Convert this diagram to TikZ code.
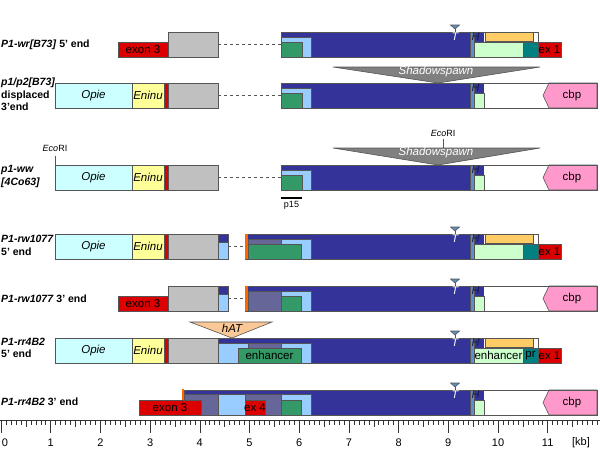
\documentclass[tikz,border=0pt]{standalone}
\usepackage{fontspec}
\setmainfont{Liberation Sans}
\definecolor{navy}{HTML}{333399}
\definecolor{lblue}{HTML}{99CCFF}
\definecolor{dgreen}{HTML}{339966}
\definecolor{slate}{HTML}{666699}
\definecolor{steel}{HTML}{5B8FC7}
\definecolor{orng}{HTML}{FFCC66}
\definecolor{lgreen}{HTML}{CCFFCC}
\definecolor{tealc}{HTML}{008080}
\definecolor{rd}{HTML}{DD0000}
\definecolor{opie}{HTML}{CCFFFF}
\definecolor{eninu}{HTML}{FFFF99}
\definecolor{gry}{HTML}{C0C0C0}
\definecolor{pnk}{HTML}{FF99CC}
\definecolor{shad}{HTML}{808080}
\definecolor{hatc}{HTML}{FAC896}
\definecolor{orstrip}{HTML}{FF6600}
\definecolor{lc}{HTML}{555555}
\definecolor{hcol}{HTML}{1A1A50}
\tikzset{
  bl/.style={draw=lc, line width=0.6pt},
  boxtxt/.style={font=\fontsize{11.5}{11.5}\selectfont, inner sep=0pt},
  itxt/.style={font=\fontsize{11.5}{11.5}\selectfont\itshape, inner sep=0pt},
  lab/.style={font=\fontsize{10.5}{12.5}\selectfont\bfseries, anchor=west, inner sep=0pt, align=left},
  dsh/.style={draw=lc, dashed, line width=0.6pt},
  small/.style={font=\fontsize{9}{9}\selectfont, inner sep=0pt},
  markfont/.style={font=\fontsize{11}{11}\selectfont\itshape, inner sep=0pt},
  rulerlab/.style={font=\fontsize{11}{11}\selectfont, inner sep=0pt},
}
\newcommand\exonend{%
  \draw[bl,fill=steel] (470,0) rectangle (474,25);
  \draw[bl,fill=orng] (485,0) rectangle (533,9.5);
  \draw[bl,fill=lgreen] (474,10) rectangle (523,25);
  \draw[bl,fill=tealc] (523,10) rectangle (538,25);
  \draw[bl,fill=rd] (538,10) rectangle (561,25);
}
\newcommand\cbpend{%
  \draw[bl,fill=steel] (470,0) rectangle (474,25);
  \draw[bl,fill=lgreen] (474,10) rectangle (484,25);
  \draw[bl,fill=pnk] (549,0) -- (597,0) -- (597,25) -- (549,25) -- (543,12.5) -- cycle;
  \node[boxtxt] (cbp) at (572,13) {cbp};
}
\newcommand\Tmark{%
  \draw[bl,fill=steel] (450.5,-7) -- (459.5,-7) -- (455,-3) -- cycle;
  \draw[lc, line width=0.6pt] (455,-3) -- (455,0);
  \node[markfont, text=white] (tm) at (455,4.8) {T};
}
\newcommand\Hmark{%
  \node[markfont, text=hcol] (hm) at (475.5,4.8) {H};
}
\newcommand\opieleft{%
  \draw[bl,fill=opie] (55,0) rectangle (132,25);
  \node[itxt] (opie) at (93.5,12.5) {Opie};
  \draw[bl,fill=eninu] (132,0) rectangle (164,25);
  \node[itxt] (eninu) at (148,12.5) {Eninu};
  \draw[bl,fill=rd] (164,0) rectangle (168,25);
  \draw[bl,fill=gry] (168,0) rectangle (218,25);
}
\begin{document}
\begin{tikzpicture}[x=1pt,y=-1pt]
\useasboundingbox (0,0) rectangle (600,450);
\fill[white] (0,0) rectangle (600,450);

% ---------- Row 1 ----------
\begin{scope}[shift={(0,32)}]
  \node[lab] (l1) at (1,12.5) {\textit{P1-wr[B73]} 5' end};
  \draw[bl,fill=white] (281,0) rectangle (538,25);
  \fill[navy] (281,0) rectangle (484,25);
  \draw[bl,fill=lblue] (281,5) rectangle (311,25);
  \draw[bl,fill=dgreen] (281,10) rectangle (302,25);
  \exonend
  \node[boxtxt] (ex1a) at (549.5,17.8) {ex 1};
  \draw[bl] (281,0) rectangle (538,25);
  \draw[bl,fill=rd] (118,10) rectangle (168,25);
  \node[boxtxt] (ex3a) at (143,17.8) {exon 3};
  \draw[bl,fill=gry] (168,0) rectangle (218,25);
  \coordinate (d1a) at (218,12.5); \coordinate (d1b) at (281,12.5);
  \draw[dsh] (d1a) -- (d1b);
  \Tmark \Hmark
\end{scope}

% Shadowspawn 1
\draw[bl,fill=shad] (333,67) -- (540,67) -- (438,83) -- cycle;
\node[font=\fontsize{11.5}{11.5}\selectfont\itshape, text=white, inner sep=0pt] (ss1) at (436,72) {Shadowspawn};

% ---------- Row 2 ----------
\begin{scope}[shift={(0,83)}]
  \node[lab, anchor=north west] (l2) at (1,-5) {\textit{p1/p2[B73]}\\displaced\\3'end};
  \draw[bl,fill=white] (281,0) rectangle (597,25);
  \fill[navy] (281,0) rectangle (484,25);
  \draw[bl,fill=lblue] (281,5.5) rectangle (311,25);
  \draw[bl,fill=dgreen] (281,10.5) rectangle (302,25);
  \cbpend
  \draw[bl] (281,0) rectangle (597,25);
  \opieleft
  \coordinate (d2a) at (218,12.5); \coordinate (d2b) at (281,12.5);
  \draw[dsh] (d2a) -- (d2b);
  \Hmark
\end{scope}

% EcoRI + Shadowspawn 2
\node[small] (eco1) at (443,133) {\textit{Eco}RI};
\coordinate (e1a) at (443,139); \coordinate (e1b) at (443,148);
\draw[lc, line width=0.6pt] (e1a) -- (e1b);
\draw[bl,fill=shad] (333,148) -- (540,148) -- (438,165) -- cycle;
\node[font=\fontsize{11.5}{11.5}\selectfont\itshape, text=white, inner sep=0pt] (ss2) at (436,153) {Shadowspawn};
\node[small] (eco2) at (55,148) {\textit{Eco}RI};
\coordinate (e2a) at (55,156); \coordinate (e2b) at (55,165);
\draw[lc, line width=0.6pt] (e2a) -- (e2b);

% ---------- Row 3 ----------
\begin{scope}[shift={(0,165)}]
  \node[lab, anchor=north west] (l3) at (1,0.5) {\textit{p1-ww}\\\textit{[4Co63]}};
  \draw[bl,fill=white] (281,0) rectangle (597,25);
  \fill[navy] (281,0) rectangle (484,25);
  \draw[bl,fill=lblue] (281,5.5) rectangle (311,25);
  \draw[bl,fill=dgreen] (281,10.5) rectangle (302,25);
  \cbpend
  \draw[bl] (281,0) rectangle (597,25);
  \opieleft
  \coordinate (d3a) at (218,12.5); \coordinate (d3b) at (281,12.5);
  \draw[dsh] (d3a) -- (d3b);
  \Hmark
  \coordinate (p1) at (281,33); \coordinate (p2) at (302,33);
  \draw[black, line width=1.6pt] (p1) -- (p2);
  \node[small] (p15) at (291.5,40) {p15};
\end{scope}

% ---------- Row 4 ----------
\begin{scope}[shift={(0,234)}]
  \node[lab, anchor=north west] (l4) at (1,1) {\textit{P1-rw1077}\\5' end};
  \draw[bl,fill=white] (245,0) rectangle (538,25);
  \fill[navy] (248,0) rectangle (484,25);
  \draw[bl,fill=lblue] (248,5) rectangle (311,25);
  \draw[bl,fill=slate] (248,5) rectangle (281,25);
  \draw[bl,fill=dgreen] (248,10) rectangle (301,25);
  \exonend
  \node[boxtxt] (ex1b) at (549.5,17.8) {ex 1};
  \draw[bl] (245,0) rectangle (538,25);
  \fill[orstrip] (245,0) rectangle (248,25);
  \opieleft
  \draw[bl,fill=navy] (218,0) rectangle (228,8);
  \draw[bl,fill=lblue] (218,8) rectangle (228,25);
  \coordinate (d4a) at (228,12.5); \coordinate (d4b) at (245,12.5);
  \draw[dsh] (d4a) -- (d4b);
  \Tmark \Hmark
\end{scope}

% ---------- Row 5 ----------
\begin{scope}[shift={(0,286)}]
  \node[lab] (l5) at (1,13) {\textit{P1-rw1077} 3' end};
  \draw[bl,fill=white] (245,0) rectangle (597,25);
  \fill[navy] (248,0) rectangle (484,25);
  \draw[bl,fill=slate] (248,5) rectangle (281,25);
  \draw[bl,fill=lblue] (281,5) rectangle (311,25);
  \draw[bl,fill=dgreen] (281,10) rectangle (301,25);
  \cbpend
  \draw[bl] (245,0) rectangle (597,25);
  \fill[orstrip] (245,0) rectangle (248,25);
  \draw[bl,fill=rd] (118,10) rectangle (168,25);
  \node[boxtxt] (ex3b) at (143,17.8) {exon 3};
  \draw[bl,fill=gry] (168,0) rectangle (218,25);
  \draw[bl,fill=navy] (218,0) rectangle (228,8);
  \draw[bl,fill=lblue] (218,8) rectangle (228,25);
  \coordinate (d5a) at (228,12.5); \coordinate (d5b) at (245,12.5);
  \draw[dsh] (d5a) -- (d5b);
  \Tmark \Hmark
\end{scope}

% hAT
\draw[draw=lc, line width=0.6pt, fill=hatc] (190,322) -- (272,322) -- (232,338) -- cycle;
\node[itxt] (hat) at (232,328) {hAT};

% ---------- Row 6 ----------
\begin{scope}[shift={(0,338)}]
  \node[lab, anchor=north west] (l6) at (1,-0.5) {\textit{P1-rr4B2}\\5' end};
  \draw[bl,fill=white] (218,0) rectangle (538,25);
  \fill[navy] (218,0) rectangle (484,25);
  \draw[bl,fill=lblue] (218,5) rectangle (311,25);
  \draw[bl,fill=slate] (248,5) rectangle (281,25);
  \draw[bl,fill=dgreen] (238,10) rectangle (301,25);
  \node[boxtxt] (enh1) at (269.5,17.8) {enhancer};
  \exonend
  \node[boxtxt] (enh2) at (498.5,17.8) {enhancer};
  \node[boxtxt] (pr) at (530.5,17.8) {pr};
  \node[boxtxt] (ex1c) at (549.5,17.8) {ex 1};
  \draw[bl] (218,0) rectangle (538,25);
  \opieleft
  \Tmark \Hmark
\end{scope}

% ---------- Row 7 ----------
\begin{scope}[shift={(0,390)}]
  \node[lab] (l7) at (1,12) {\textit{P1-rr4B2} 3' end};
  \draw[bl,fill=white] (184,0) rectangle (597,25);
  \fill[navy] (184,0) rectangle (484,25);
  \draw[bl,fill=slate] (184,4) rectangle (218,25);
  \draw[bl,fill=lblue] (218,4) rectangle (245,25);
  \draw[bl,fill=slate] (245,4) rectangle (281,25);
  \draw[bl,fill=lblue] (281,4) rectangle (311,25);
  \draw[bl,fill=dgreen] (281,10) rectangle (301,25);
  \cbpend
  \draw[bl] (184,0) rectangle (597,25);
  \fill[orstrip] (181.7,-1) rectangle (184.3,10);
  \draw[bl,fill=rd] (139,10) rectangle (201,25);
  \node[boxtxt] (ex3c) at (170,17.8) {exon 3};
  \draw[bl,fill=rd] (245,10) rectangle (265,25);
  \node[boxtxt] (ex4) at (255,17.8) {ex 4};
  \Tmark \Hmark
\end{scope}

% ---------- Ruler ----------
\coordinate (r0) at (0,420); \coordinate (r1) at (600,420);
\draw[black!80, line width=0.6pt] (r0) -- (r1);
\foreach \i in {0,...,120} {
  \draw[black!80, line width=0.5pt] ({1+\i*4.97},420) -- ({1+\i*4.97},425);
}
\foreach \i in {0,...,11} {
  \draw[black!80, line width=0.5pt] ({1+(\i+0.5)*49.7},420) -- ({1+(\i+0.5)*49.7},427);
  \draw[black!80, line width=0.6pt] ({1+\i*49.7},420) -- ({1+\i*49.7},433);
}
\node[rulerlab] (n0) at (5,443) {0};
\foreach \i in {1,...,11} {
  \node[rulerlab] (n\i) at ({1+\i*49.7},443) {\i};
}
\node[rulerlab] (kb) at (581,443) {[kb]};
\end{tikzpicture}
\end{document}
